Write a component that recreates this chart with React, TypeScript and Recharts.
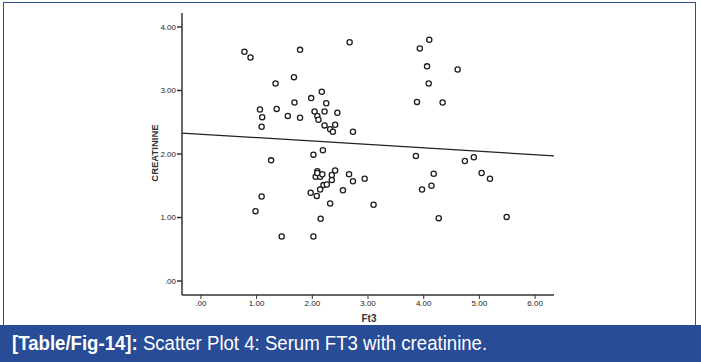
import React from 'react';
import { ScatterChart, Scatter, XAxis, YAxis, ReferenceLine } from 'recharts';

const ft3 = [
  0.78, 0.89, 1.78, 2.67, 1.34, 1.67, 2.17, 1.98, 1.68, 2.25,
  1.06, 1.36, 2.04, 2.22, 2.45, 1.10, 1.56, 1.78, 2.09, 2.11,
  2.22, 2.41, 2.32, 2.37, 1.09, 2.73, 2.02, 2.19, 1.26, 3.93,
  4.10, 4.06, 4.61, 4.09, 3.88, 4.34, 3.86, 4.74, 4.90, 4.18,
  5.04, 5.19, 3.97, 4.14, 4.27, 5.49, 1.09, 0.98, 1.45, 2.02,
  2.15, 2.32, 3.10, 1.97, 2.08, 2.14, 2.20, 2.26, 2.55, 2.94,
  2.73, 2.66, 2.35, 2.35, 2.41, 2.06, 2.14, 2.09, 2.09, 2.18,
];
const creatinine = [
  3.61, 3.52, 3.64, 3.76, 3.11, 3.21, 2.98, 2.88, 2.81, 2.80,
  2.70, 2.71, 2.67, 2.67, 2.65, 2.58, 2.60, 2.57, 2.60, 2.54,
  2.45, 2.46, 2.39, 2.35, 2.43, 2.35, 1.99, 2.06, 1.90, 3.66,
  3.80, 3.38, 3.33, 3.11, 2.82, 2.81, 1.97, 1.89, 1.95, 1.69,
  1.70, 1.61, 1.44, 1.50, 0.99, 1.01, 1.33, 1.10, 0.70, 0.70,
  0.98, 1.22, 1.20, 1.39, 1.34, 1.44, 1.51, 1.52, 1.43, 1.61,
  1.57, 1.68, 1.59, 1.67, 1.74, 1.64, 1.64, 1.73, 1.70, 1.68,
];
const xTicks = [0, 1, 2, 3, 4, 5, 6];
const yTicks = [0, 1, 2, 3, 4];
const fitX = [-0.34, 6.34];
const fitY = [2.33, 1.97];
const xDomain = [-0.34, 6.34];
const yDomain = [-0.22, 4.22];

const points = ft3.map((x, i) => ({ x, y: creatinine[i] }));
const fitSegment = fitX.map((x, i) => ({ x, y: fitY[i] }));

const fmt = (v: number) => (v === 0 ? '.00' : v.toFixed(2));

const Ring = (props: any) => {
  const { cx, cy } = props;
  if (cx == null || cy == null) return null;
  return <circle cx={cx} cy={cy} r={2.6} fill="#fff" stroke="#1e1e1e" strokeWidth={1.3} />;
};

const font = '"Liberation Sans", Arial, sans-serif';

export default function App() {
  return (
    <div style={{ position: 'absolute', left: 0, top: 0, width: 701, height: 362, background: '#fff', overflow: 'hidden' }}>
      <div style={{ position: 'absolute', left: 3, top: 2, width: 693, height: 340, border: '1.5px solid #2d4d8c', boxSizing: 'border-box' }} />
      <div style={{ position: 'absolute', left: 0, top: 0 }}>
        <ScatterChart width={701} height={325} margin={{ top: 13, right: 147, bottom: 0, left: 122 }}>
          <XAxis
            type="number"
            dataKey="x"
            domain={xDomain}
            ticks={xTicks}
            allowDataOverflow
            tickFormatter={fmt}
            height={30}
            tickSize={4}
            tickMargin={1}
            stroke="#333"
            axisLine={{ stroke: '#333', strokeWidth: 1.5 }}
            tickLine={{ stroke: '#333', strokeWidth: 1 }}
            tick={{ fontSize: 8, fill: '#222', fontFamily: font }}
            label={{
              content: () => (
                <text x={369} y={318} textAnchor="middle" dominantBaseline="central" fontSize={10} fontWeight="bold" fill="#333" fontFamily={font}>Ft3</text>
              ),
            }}
          />
          <YAxis
            type="number"
            dataKey="y"
            domain={yDomain}
            ticks={yTicks}
            allowDataOverflow
            tickFormatter={fmt}
            width={60}
            tickSize={5}
            tickMargin={1}
            stroke="#333"
            axisLine={{ stroke: '#333', strokeWidth: 1.5 }}
            tickLine={{ stroke: '#333', strokeWidth: 1.5 }}
            tick={{ fontSize: 8, fill: '#222', fontFamily: font }}
            label={{
              content: () => (
                <text x={154} y={153} transform="rotate(-90 154 153)" textAnchor="middle" dominantBaseline="central" fontSize={9.5} fontWeight="bold" fill="#333" fontFamily={font}>CREATININE</text>
              ),
            }}
          />
          <ReferenceLine segment={fitSegment} stroke="#222" strokeWidth={1.2} ifOverflow="visible" />
          <Scatter data={points} shape={<Ring />} isAnimationActive={false} />
        </ScatterChart>
      </div>
      <div style={{ position: 'absolute', left: 0, top: 325, width: 701, height: 37, background: '#284c95', color: '#fff', fontFamily: font, fontSize: 20, lineHeight: '37px', paddingLeft: 12, boxSizing: 'border-box', whiteSpace: 'nowrap' }}>
        <span style={{ display: 'inline-block', transform: 'scaleX(0.93)', transformOrigin: 'left center' }}>
          <span style={{ fontWeight: 'bold' }}>[Table/Fig-14]:</span> Scatter Plot 4: Serum FT3 with creatinine.
        </span>
      </div>
    </div>
  );
}
